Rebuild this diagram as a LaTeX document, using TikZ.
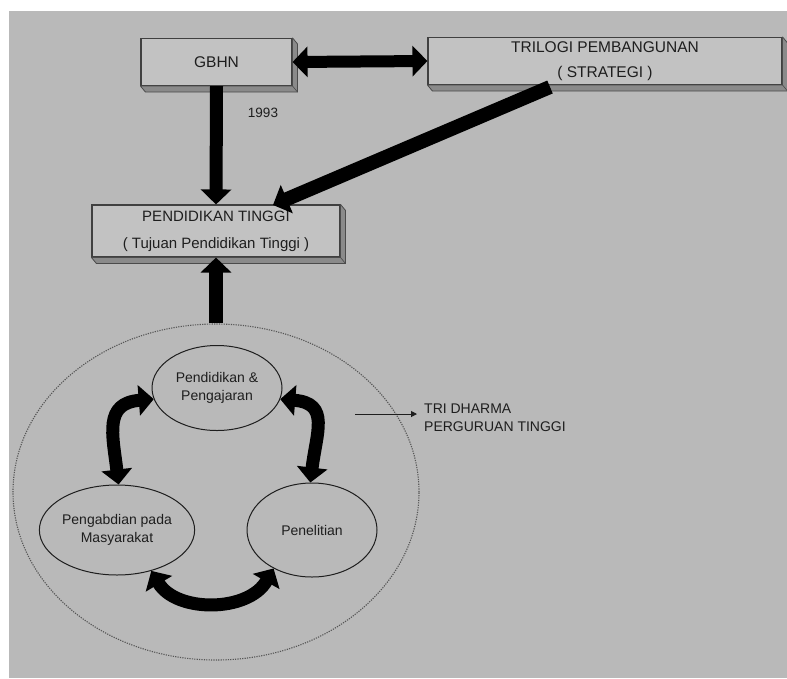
\documentclass[tikz,border=0pt]{standalone}
\usepackage{fontspec}
\setmainfont{Liberation Sans}
\usetikzlibrary{arrows.meta,shapes.geometric}
\definecolor{bg}{HTML}{B9B9B9}
\definecolor{boxfill}{HTML}{C2C2C2}
\definecolor{shadowc}{HTML}{8A8A8A}
\definecolor{ink}{HTML}{1E1E1E}
\tikzset{
  rbox/.style={draw=ink!85, line width=1.1pt, fill=boxfill, inner sep=0pt, align=center, text=ink,
    font=\fontsize{15.5}{25}\selectfont},
  ell/.style={ellipse, draw=ink, line width=1pt, fill=bg, inner sep=0pt, align=center, text=ink,
    font=\fontsize{14}{18}\selectfont},
  bigarrow/.style={line width=13pt, draw=black, -{Triangle[width=30pt,length=15pt]}},
  bigdarrow/.style={line width=12pt, draw=black, {Triangle[width=30pt,length=15pt]}-{Triangle[width=30pt,length=15pt]}},
  curvarrow/.style={line width=13pt, draw=black, {Triangle[width=30pt,length=15pt]}-{Triangle[width=30pt,length=15pt]}},
  shadowbox/.style={fill=shadowc, draw=ink!80, line width=0.8pt, line join=round},
  plain/.style={text=ink, inner sep=0pt, align=left}
}
\begin{document}
\begin{tikzpicture}[x=1pt,y=-1pt]
\useasboundingbox (0,0) rectangle (787,678);
\fill[white] (0,0) rectangle (787,678);
\fill[bg] (9,11) rectangle (787,678);

% boxes
\node[rbox, minimum width=151pt, minimum height=47pt] (gbhn) at (216.5,62) {GBHN};
\node[rbox, minimum width=354pt, minimum height=47pt] (tri) at (605,61) {TRILOGI PEMBANGUNAN\\( STRATEGI )};
\node[rbox, minimum width=248pt, minimum height=52pt, font=\fontsize{15}{27}\selectfont] (pt) at (216,231) {PENDIDIKAN TINGGI\\( Tujuan Pendidikan Tinggi )};

% 3D shadows
\foreach \b in {gbhn,tri,pt}{
  \filldraw[shadowbox] (\b.south west) -- ([shift={(5,6)}]\b.south west) -- ([shift={(5,6)}]\b.south east)
    -- ([shift={(5,6)}]\b.north east) -- (\b.north east) -- (\b.south east) -- cycle;
  \draw[ink!80, line width=0.6pt] (\b.south east) -- ([shift={(5,6)}]\b.south east);
}

\node[plain, font=\fontsize{13.5}{16}\selectfont] (year) at (263,113) {1993};

% big dotted ellipse
\node[ellipse, draw=ink!75, dash pattern=on 1.2pt off 1.2pt, line width=1.1pt, minimum width=406pt, minimum height=336pt, inner sep=0pt] (circ) at (216,492) {};

% ellipses
\node[ell, minimum width=130pt, minimum height=85pt] (pp) at (217,388) {Pendidikan \&\\Pengajaran};
\node[ell, minimum width=126pt, minimum height=90pt] (pm) at (117,530) {Pengabdian pada\\Masyarakat};
\node[ell, minimum width=130pt, minimum height=94pt] (pn) at (312,530) {Penelitian};

% arrows between boxes
\draw[bigdarrow] (gbhn.east) -- (tri.west);
\draw[bigarrow] (gbhn.south) -- (pt.north);
\coordinate (dstart) at (550,87);
\coordinate (dend) at (273,205);
\draw[bigarrow, line width=14pt] (dstart) -- (dend);
\draw[bigarrow, line width=14pt] (circ.north) -- (pt.south);

% curved arrows
\draw[curvarrow] (pp.190) .. controls +(-50,4) and +(-6,-50) .. (pm.88);
\draw[curvarrow] (pp.-10) .. controls +(50,4) and +(6,-50) .. (pn.92);
\draw[curvarrow] (pm.-50) .. controls +(25,42) and +(-25,44) .. (pn.-135);

% label arrow
\node[plain, anchor=west, font=\fontsize{14}{18}\selectfont] (td) at (424,418) {TRI DHARMA\\PERGURUAN TINGGI};
\coordinate (tdstart) at (355,414);
\draw[ink, line width=1pt, -{Triangle[width=6pt,length=6pt]}] (tdstart) -- ([xshift=-7pt]td.west |- tdstart);
\end{tikzpicture}
\end{document}
